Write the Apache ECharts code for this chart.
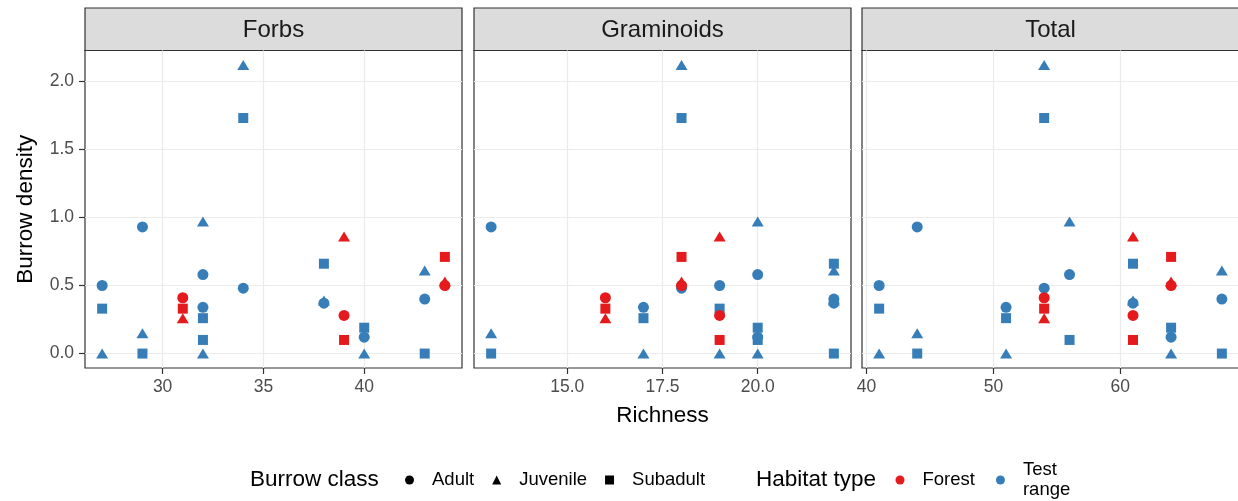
<!DOCTYPE html>
<html>
<head>
<meta charset="utf-8">
<script src="https://cdn.jsdelivr.net/npm/echarts@6/dist/echarts.min.js"></script>
<style>
  html, body { margin: 0; padding: 0; background: #ffffff; }
  #chart { width: 1238px; height: 501px; }
</style>
</head>
<body>
<div id="chart"></div>
<script>
// Burrow density at each site against plant species richness,
// faceted by richness measure; shape = burrow class, colour = habitat.
const panelNames = ['Forbs', 'Graminoids', 'Total'];

// one entry per site
const habitat = ['Test range', 'Test range', 'Test range', 'Test range',
                 'Test range', 'Test range', 'Test range', 'Test range',
                 'Forest', 'Forest', 'Forest'];
const forbsRichness     = [27, 29, 32, 32, 34, 38, 40, 43, 31, 39, 44];
const graminoidRichness = [19, 13, 20, 17, 18, 22, 20, 22, 16, 19, 18];
const totalRichness     = [41, 44, 56, 51, 54, 61, 64, 68, 54, 61, 64];

const adultDensity    = [0.50, 0.93, 0.58, 0.34, 0.48, 0.37, 0.12, 0.40, 0.41, 0.28, 0.50];
const juvenileDensity = [0.00, 0.15, 0.97, 0.00, 2.12, 0.39, 0.00, 0.61, 0.26, 0.86, 0.53];
const subadultDensity = [0.33, 0.00, 0.10, 0.26, 1.73, 0.66, 0.19, 0.00, 0.33, 0.10, 0.71];

const classNames   = ['Adult', 'Juvenile', 'Subadult'];
const habitatNames = ['Forest', 'Test range'];

// tick labels
const forbsTicks     = [30, 35, 40];
const graminoidTicks = [15, 17.5, 20];
const totalTicks     = [40, 50, 60];
const densityTicks   = [0, 0.5, 1, 1.5, 2];

// ---- styling and layout ----
const FONT = "'Liberation Sans', Arial, sans-serif";
const habitatColor = { 'Forest': '#E41A1C', 'Test range': '#377EB8' };
const classSymbol = { 'Adult': 'circle', 'Juvenile': 'triangle', 'Subadult': 'rect' };
const classSymbolSize = { 'Adult': 11, 'Juvenile': [12, 10], 'Subadult': 10 };
const drawOrder = ['Juvenile', 'Subadult', 'Adult'];

const panelLefts = [85, 474, 862];
const panelWidth = 377;
const stripTop = 8, stripHeight = 42.5;
const panelTop = stripTop + stripHeight;
const panelHeight = 368 - panelTop;

const richnessByPanel = [forbsRichness, graminoidRichness, totalRichness];
const ticksByPanel = [forbsTicks, graminoidTicks, totalTicks];
const densityByClass = { 'Adult': adultDensity, 'Juvenile': juvenileDensity, 'Subadult': subadultDensity };

// ggplot-style 5% padding either side of the data range
function paddedRange(values) {
  const lo = Math.min(...values), hi = Math.max(...values);
  const pad = (hi - lo) * 0.05;
  return [lo - pad, hi + pad];
}
const allDensity = adultDensity.concat(juvenileDensity, subadultDensity);
const yRange = paddedRange(allDensity);

const grids = panelLefts.map(left => ({
  left: left, top: panelTop, width: panelWidth, height: panelHeight,
  show: true, borderColor: '#333333', borderWidth: 1.2,
  backgroundColor: '#ffffff', outerBoundsMode: 'none', containLabel: false
}));

const xAxes = richnessByPanel.map((vals, p) => {
  const r = paddedRange(vals);
  const decimals = p === 1 ? 1 : 0;
  const axis = {
    type: 'value', gridIndex: p, position: 'bottom', min: r[0], max: r[1],
    axisLine: { show: false, onZero: false },
    axisTick: { show: true, length: 6, customValues: ticksByPanel[p],
                lineStyle: { color: '#333333', width: 1.2 } },
    axisLabel: { customValues: ticksByPanel[p], margin: 10,
                 formatter: v => Number(v).toFixed(decimals),
                 color: '#4D4D4D', fontSize: 17.5, fontFamily: FONT },
    splitLine: { show: true, lineStyle: { color: '#EBEBEB', width: 1.2 } }
  };
  if (p === 1) {
    axis.name = 'Richness';
    axis.nameLocation = 'middle';
    axis.nameGap = 36;
    axis.nameTextStyle = { color: '#000000', fontSize: 22.5, fontFamily: FONT };
  }
  return axis;
});

const yAxes = panelNames.map((_, p) => {
  const first = p === 0;
  const axis = {
    type: 'value', gridIndex: p, position: 'left', min: yRange[0], max: yRange[1],
    axisLine: { show: false, onZero: false },
    axisTick: { show: first, length: first ? 6 : 0, customValues: densityTicks,
                lineStyle: { color: first ? '#333333' : 'rgba(0,0,0,0)', width: 1.2 } },
    axisLabel: { show: first, customValues: densityTicks, margin: 11,
                 formatter: v => Number(v).toFixed(1),
                 color: '#4D4D4D', fontSize: 17.5, fontFamily: FONT },
    splitLine: { show: true, lineStyle: { color: '#EBEBEB', width: 1.2 } }
  };
  if (first) {
    axis.name = 'Burrow density';
    axis.nameLocation = 'middle';
    axis.nameRotate = 90;
    axis.nameGap = 48;
    axis.nameTextStyle = { color: '#000000', fontSize: 22.5, fontFamily: FONT };
  }
  return axis;
});

const series = [];
richnessByPanel.forEach((richness, p) => {
  drawOrder.forEach(cls => {
    const dens = densityByClass[cls];
    series.push({
      type: 'scatter', name: cls, xAxisIndex: p, yAxisIndex: p,
      symbol: classSymbol[cls], symbolSize: classSymbolSize[cls],
      silent: true, animation: false,
      emphasis: { disabled: true },
      itemStyle: { opacity: 1 },
      data: richness.map((x, i) => ({
        value: [x, dens[i]],
        itemStyle: { color: habitatColor[habitat[i]], opacity: 1 }
      }))
    });
  });
});
// habitat keys for the colour legend
habitatNames.forEach(h => {
  series.push({
    type: 'scatter', name: h, xAxisIndex: 0, yAxisIndex: 0,
    symbol: 'circle', itemStyle: { color: habitatColor[h], opacity: 1 }, data: []
  });
});

const graphics = [];
panelNames.forEach((name, p) => {
  graphics.push({
    type: 'rect', silent: true,
    shape: { x: panelLefts[p], y: stripTop, width: panelWidth, height: stripHeight },
    style: { fill: '#DCDCDC', stroke: '#333333', lineWidth: 1.2 }
  });
  graphics.push({
    type: 'text', silent: true,
    style: { text: name, x: panelLefts[p] + panelWidth / 2, y: stripTop + stripHeight / 2 + 1,
             align: 'center', verticalAlign: 'middle',
             fill: '#1A1A1A', font: '24px ' + FONT }
  });
});
graphics.push({
  type: 'text', silent: true,
  style: { text: 'Burrow class', x: 250, y: 480, align: 'left', verticalAlign: 'middle',
           fill: '#000000', font: '22.5px ' + FONT }
});
graphics.push({
  type: 'text', silent: true,
  style: { text: 'Habitat type', x: 756, y: 480, align: 'left', verticalAlign: 'middle',
           fill: '#000000', font: '22.5px ' + FONT }
});

const legendText = { color: '#000000', fontSize: 18.5, fontFamily: FONT,
                     lineHeight: 20, padding: [0, 0, 0, 13] };

const option = {
  animation: false,
  textStyle: { fontFamily: FONT },
  grid: grids,
  xAxis: xAxes,
  yAxis: yAxes,
  series: series,
  graphic: graphics,
  legend: [
    {
      data: classNames, left: 405, top: 470, padding: 0,
      orient: 'horizontal', itemWidth: 9, itemHeight: 9, itemGap: 18,
      selectedMode: false, itemStyle: { color: '#000000', opacity: 1 },
      textStyle: legendText
    },
    {
      data: habitatNames, left: 895.5, top: 460, padding: 0,
      orient: 'horizontal', itemWidth: 9, itemHeight: 9, itemGap: 21,
      selectedMode: false, icon: 'circle', itemStyle: { opacity: 1 },
      formatter: n => n.replace(' ', '\n'),
      textStyle: legendText
    }
  ]
};

const chart = echarts.init(document.getElementById('chart'), null, { renderer: 'canvas' });
chart.setOption(option);
</script>
</body>
</html>
